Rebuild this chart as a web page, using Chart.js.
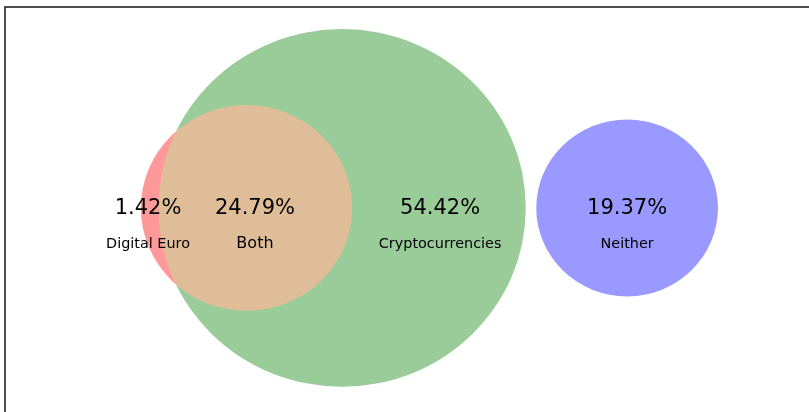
<!DOCTYPE html>
<html>
<head>
<meta charset="utf-8">
<script src="https://cdn.jsdelivr.net/npm/chart.js@4.4.1/dist/chart.umd.min.js"></script>
<style>
  html, body { margin: 0; padding: 0; background: #ffffff; overflow: hidden; }
  #wrap { width: 809px; height: 412px; overflow: hidden; position: relative; }
  canvas { display: block; }
</style>
</head>
<body>
<div id="wrap"><canvas id="c" width="829" height="429"></canvas></div>
<script>
// ---- data (region shares, % of respondents) ----
const regionNames = ['Digital Euro', 'Both', 'Cryptocurrencies', 'Neither'];
const regionShares = [1.42, 24.79, 54.42, 19.37];

// set sizes derived from the region shares
const setNames = ['Cryptocurrencies', 'Digital Euro', 'Neither'];
const setSizes = [regionShares[1] + regionShares[2], regionShares[0] + regionShares[1], regionShares[3]];

// ---- layout (diagram units; circle radius = sqrt(set size)) ----
const circleCentersX = [16.33, 11.70, 30.14];
const circleCentersY = [10, 10, 10];
const shareLabelX = [6.93, 12.11, 21.08, 30.14];
const shareLabelY = 10.28;
const nameLabelY = 12.0;
const nameFontSizes = [14.4, 16, 14.4, 14.4];
const X_STRETCH = 1.027;

const colGreen = 'rgb(153,204,153)';
const colRed = 'rgb(255,153,153)';
const colTan = 'rgb(224,189,153)';
const colBlue = 'rgb(153,153,255)';

function pt(i) { return { x: circleCentersX[i], y: circleCentersY[i], rad: Math.sqrt(setSizes[i]) }; }

function radiusFromScale(ctx) {
  const raw = ctx.raw;
  const ys = ctx.chart.scales.y;
  if (!raw || !ys) return 0;
  const v = Math.abs(ys.getPixelForValue(raw.y + raw.rad) - ys.getPixelForValue(raw.y));
  return isFinite(v) ? v : 0;
}

const compositeOps = ['source-over', 'source-atop', 'destination-over', 'source-over'];

const stretchPlugin = {
  id: 'stretch',
  beforeDatasetsDraw(chart) {
    const ctx = chart.ctx, l = chart.chartArea.left;
    ctx.save();
    ctx.translate(l, 0); ctx.scale(X_STRETCH, 1); ctx.translate(-l, 0);
  },
  beforeDatasetDraw(chart, args) {
    chart.ctx.globalCompositeOperation = compositeOps[args.index];
  },
  afterDatasetDraw(chart) {
    chart.ctx.globalCompositeOperation = 'source-over';
  },
  afterDatasetsDraw(chart) { chart.ctx.restore(); }
};

const textAndFramePlugin = {
  id: 'textFrame',
  afterDraw(chart) {
    const ctx = chart.ctx, a = chart.chartArea;
    const xs = chart.scales.x, ys = chart.scales.y;
    const fx = u => a.left + X_STRETCH * (xs.getPixelForValue(u) - a.left);
    ctx.save();
    ctx.fillStyle = '#000';
    ctx.textAlign = 'center';
    ctx.textBaseline = 'alphabetic';
    for (let i = 0; i < regionNames.length; i++) {
      ctx.font = '21px "DejaVu Sans"';
      ctx.fillText(regionShares[i].toFixed(2) + '%', fx(shareLabelX[i]), ys.getPixelForValue(shareLabelY));
      ctx.font = nameFontSizes[i] + 'px "DejaVu Sans"';
      ctx.fillText(regionNames[i], fx(shareLabelX[i]), ys.getPixelForValue(nameLabelY));
    }
    ctx.strokeStyle = '#222';
    ctx.lineWidth = 1.6;
    ctx.strokeRect(a.left, a.top, a.right - a.left, a.bottom - a.top);
    ctx.restore();
  }
};

const pointOpts = { pointRadius: radiusFromScale, pointBorderWidth: 0, pointHoverRadius: radiusFromScale, pointHoverBorderWidth: 0, showLine: false, clip: false };

new Chart(document.getElementById('c'), {
  type: 'scatter',
  data: {
    datasets: [
      Object.assign({ label: setNames[0], data: [pt(0)], pointBackgroundColor: colGreen, order: 4 }, pointOpts),
      Object.assign({ label: 'Both', data: [pt(1)], pointBackgroundColor: colTan, order: 3 }, pointOpts),
      Object.assign({ label: setNames[1], data: [pt(1)], pointBackgroundColor: colRed, order: 2 }, pointOpts),
      Object.assign({ label: setNames[2], data: [pt(2)], pointBackgroundColor: colBlue, order: 1 }, pointOpts)
    ]
  },
  options: {
    responsive: false,
    animation: false,
    events: [],
    layout: { padding: { left: 5, top: 7, right: 0, bottom: 0 } },
    plugins: { legend: { display: false }, tooltip: { enabled: false } },
    scales: {
      x: { type: 'linear', min: 0, max: 41, display: false },
      y: { type: 'linear', min: 0, max: 21, reverse: true, display: false }
    }
  },
  plugins: [stretchPlugin, textAndFramePlugin]
});
</script>
</body>
</html>
